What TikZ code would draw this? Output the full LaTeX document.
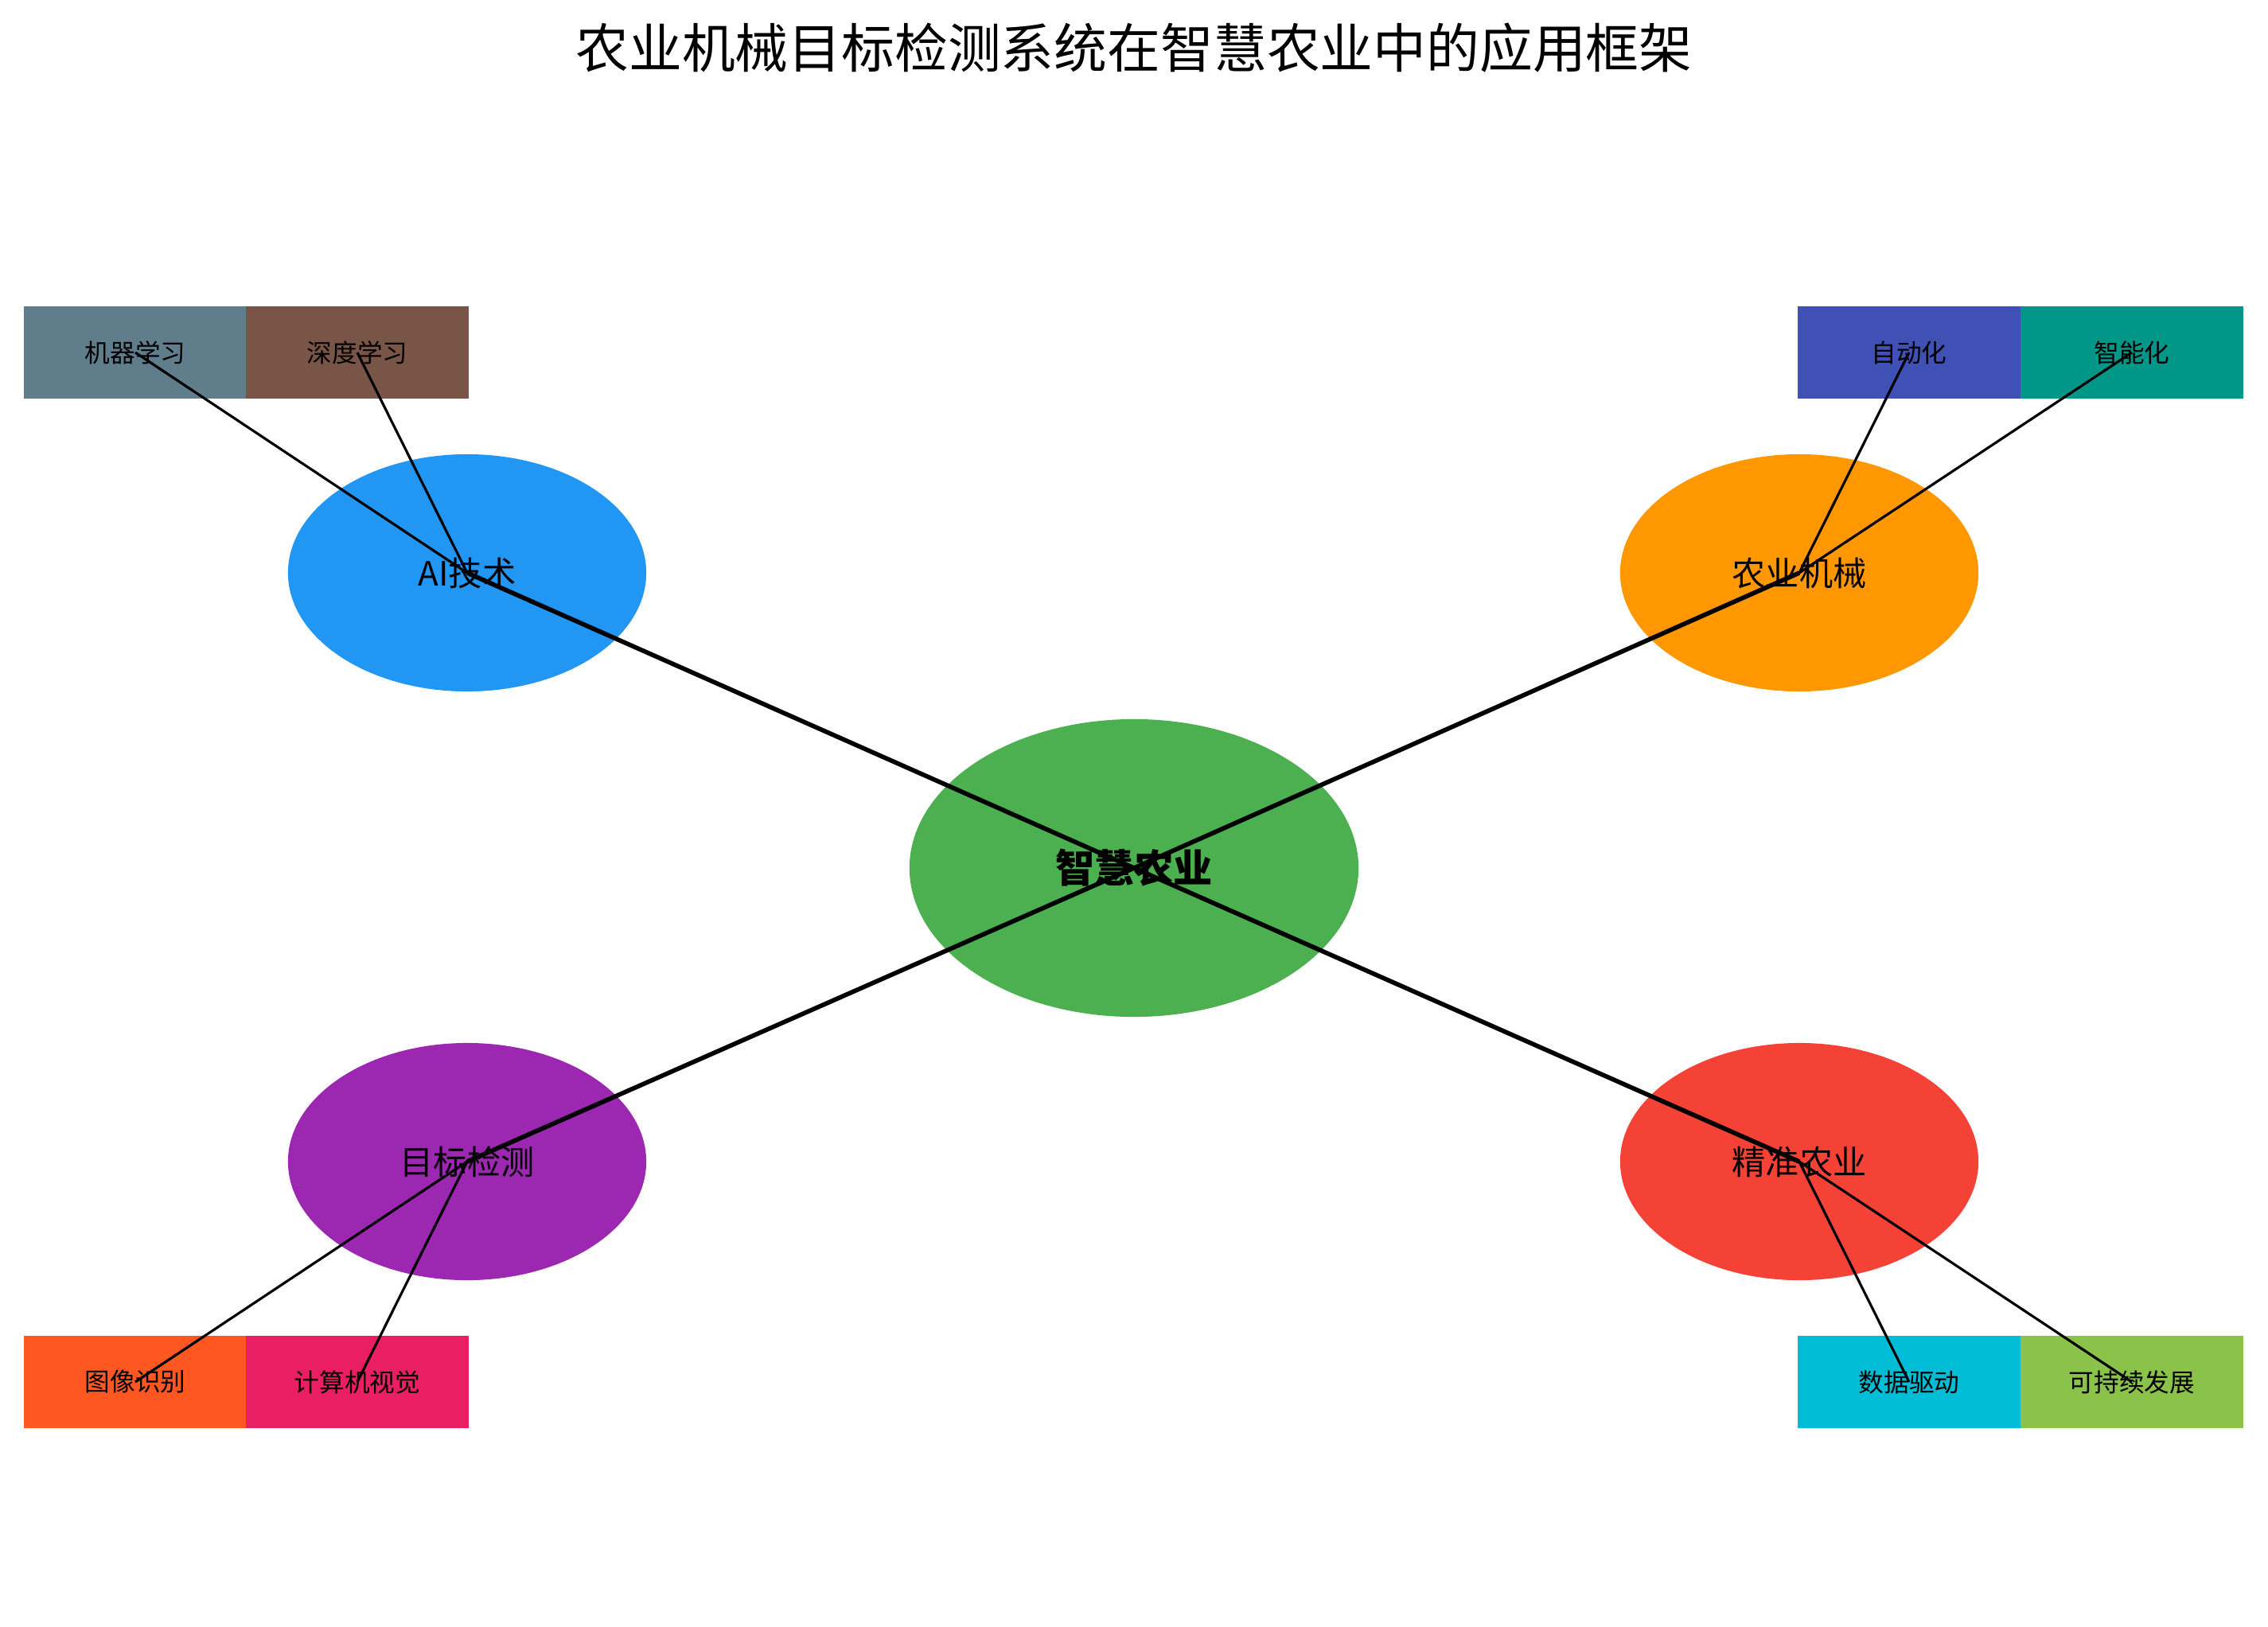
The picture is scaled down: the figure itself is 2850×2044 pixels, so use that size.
\documentclass[tikz,border=0pt]{standalone}
\usepackage{fontspec}
\setmainfont{Noto Sans CJK SC}
\usetikzlibrary{shapes.geometric}

\definecolor{hubcol}{HTML}{4CAF50}
\definecolor{aicol}{HTML}{2196F3}
\definecolor{machcol}{HTML}{FF9800}
\definecolor{detcol}{HTML}{9C27B0}
\definecolor{preccol}{HTML}{F44336}
\definecolor{mlcol}{HTML}{607D8B}
\definecolor{dlcol}{HTML}{795548}
\definecolor{autocol}{HTML}{3F51B5}
\definecolor{smartcol}{HTML}{009688}
\definecolor{imgcol}{HTML}{FF5722}
\definecolor{cvcol}{HTML}{E91E63}
\definecolor{datacol}{HTML}{00BCD4}
\definecolor{suscol}{HTML}{8BC34A}

\begin{document}
\begin{tikzpicture}[x=0.01cm, y=-0.01cm,
    topic/.style={ellipse, inner sep=0pt, minimum width=4.5cm, minimum height=2.98cm,
                  font=\fontsize{12}{14}\selectfont},
    leaf/.style={rectangle, inner sep=0pt, minimum width=2.79cm, minimum height=1.15cm,
                 font=\fontsize{9}{11}\selectfont},
    mainlink/.style={line width=1.6pt},
    sublink/.style={line width=0.9pt}]
    \useasboundingbox (0,0) rectangle (2850,2044);

    \node (title) at (1425,60) {\fontsize{19}{23}\selectfont 农业机械目标检测系统在智慧农业中的应用框架};

    % center and the four branches
    \node[ellipse, inner sep=0pt, minimum width=5.64cm, minimum height=3.74cm, fill=hubcol,
          font=\fontsize{14}{16}\selectfont\bfseries] (hub) at (1425,1091) {智慧农业};
    \node[topic, fill=aicol] (ai) at (587,720) {AI技术};
    \node[topic, fill=machcol] (mach) at (2261,720) {农业机械};
    \node[topic, fill=detcol] (det) at (587,1460) {目标检测};
    \node[topic, fill=preccol] (prec) at (2261,1460) {精准农业};

    % leaves
    \node[leaf, fill=mlcol] (ml) at (170,443) {机器学习};
    \node[leaf, fill=dlcol] (dl) at (449,443) {深度学习};
    \node[leaf, fill=autocol] (auto) at (2399,443) {自动化};
    \node[leaf, fill=smartcol] (smart) at (2679,443) {智能化};
    \node[leaf, fill=imgcol] (img) at (170,1737) {图像识别};
    \node[leaf, fill=cvcol] (cv) at (449,1737) {计算机视觉};
    \node[leaf, fill=datacol] (data) at (2399,1737) {数据驱动};
    \node[leaf, fill=suscol] (sus) at (2679,1737) {可持续发展};

    \foreach \t in {ai,mach,det,prec}
        \draw[mainlink] (hub.center) -- (\t.center);

    \draw[sublink] (ai.center) -- (ml.center);
    \draw[sublink] (ai.center) -- (dl.center);
    \draw[sublink] (mach.center) -- (auto.center);
    \draw[sublink] (mach.center) -- (smart.center);
    \draw[sublink] (det.center) -- (img.center);
    \draw[sublink] (det.center) -- (cv.center);
    \draw[sublink] (prec.center) -- (data.center);
    \draw[sublink] (prec.center) -- (sus.center);
\end{tikzpicture}
\end{document}
